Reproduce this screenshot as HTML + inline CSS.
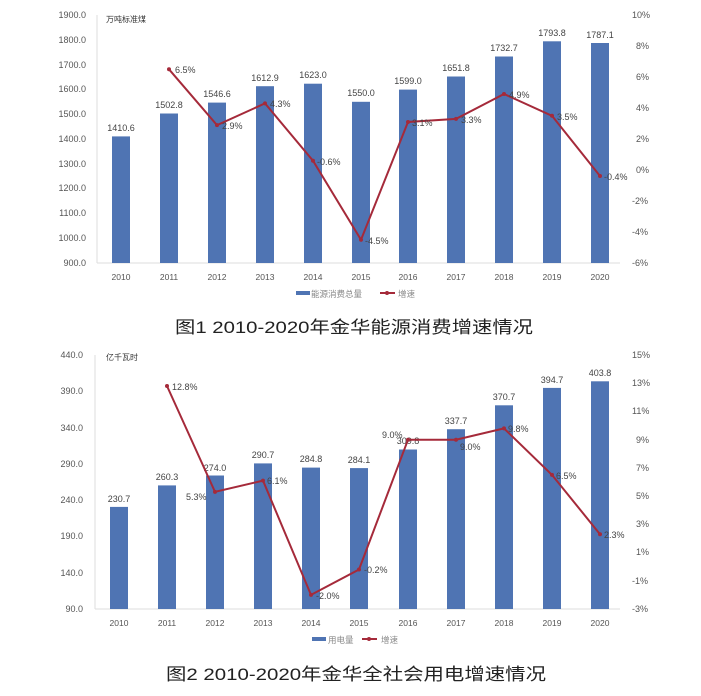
<!DOCTYPE html><html><head><meta charset="utf-8"><style>body{margin:0;background:#fff}svg{display:block}text{font-family:"Liberation Sans","Noto Sans CJK SC",sans-serif}</style></head><body>
<svg width="701" height="696" viewBox="0 0 701 696" xmlns="http://www.w3.org/2000/svg">
<g font-size="9" fill="#555">
<line x1="97" y1="15" x2="97" y2="263" stroke="#ddd"/>
<line x1="97" y1="263" x2="620" y2="263" stroke="#ddd"/>
<g text-anchor="end">
<text x="86" y="18">1900.0</text><text x="86" y="43">1800.0</text><text x="86" y="68">1700.0</text><text x="86" y="92">1600.0</text><text x="86" y="117">1500.0</text><text x="86" y="142">1400.0</text><text x="86" y="167">1300.0</text><text x="86" y="191">1200.0</text><text x="86" y="216">1100.0</text><text x="86" y="241">1000.0</text><text x="86" y="266">900.0</text>
</g>
<g text-anchor="start">
<text x="632" y="18">10%</text><text x="636" y="49">8%</text><text x="636" y="80">6%</text><text x="636" y="111">4%</text><text x="636" y="142">2%</text><text x="636" y="173">0%</text><text x="632" y="204">-2%</text><text x="632" y="235">-4%</text><text x="632" y="266">-6%</text>
</g>
<text x="106" y="22" font-size="8" fill="#333">万吨标准煤</text>
<g fill="#4f74b3">
<rect x="112" y="136.4" width="18" height="126.6"/><rect x="160" y="113.5" width="18" height="149.5"/><rect x="208" y="102.6" width="18" height="160.4"/><rect x="256" y="86.2" width="18" height="176.8"/><rect x="304" y="83.7" width="18" height="179.3"/><rect x="352" y="101.8" width="18" height="161.2"/><rect x="399" y="89.6" width="18" height="173.4"/><rect x="447" y="76.5" width="18" height="186.5"/><rect x="495" y="56.5" width="18" height="206.5"/><rect x="543" y="41.3" width="18" height="221.7"/><rect x="591" y="43" width="18" height="220"/>
</g>
<g text-anchor="middle" fill="#444">
<text x="121" y="131">1410.6</text><text x="169" y="108">1502.8</text><text x="217" y="97">1546.6</text><text x="265" y="81">1612.9</text><text x="313" y="78">1623.0</text><text x="361" y="96">1550.0</text><text x="408" y="84">1599.0</text><text x="456" y="71">1651.8</text><text x="504" y="51">1732.7</text><text x="552" y="36">1793.8</text><text x="600" y="38">1787.1</text>
</g>
<polyline points="169,69.3 217,125.1 265,103.4 313,160.7 361,239.8 408,122 456,118.9 504,94 552,115.8 600,176" fill="none" stroke="#a52a3a" stroke-width="2"/>
<g fill="#a52a3a"><circle cx="169" cy="69.3" r="2"/><circle cx="217" cy="125.1" r="2"/><circle cx="265" cy="103.4" r="2"/><circle cx="313" cy="160.7" r="2"/><circle cx="361" cy="239.8" r="2"/><circle cx="408" cy="122" r="2"/><circle cx="456" cy="118.9" r="2"/><circle cx="504" cy="94" r="2"/><circle cx="552" cy="115.8" r="2"/><circle cx="600" cy="176" r="2"/></g>
<g fill="#444">
<text x="175" y="73">6.5%</text><text x="222" y="129">2.9%</text><text x="270" y="107">4.3%</text><text x="317" y="165">-0.6%</text><text x="365" y="244">-4.5%</text><text x="412" y="126">3.1%</text><text x="461" y="123">3.3%</text><text x="509" y="98">4.9%</text><text x="557" y="120">3.5%</text><text x="604" y="180">-0.4%</text>
</g>
<g text-anchor="middle" font-size="8.5">
<text x="121" y="280">2010</text><text x="169" y="280">2011</text><text x="217" y="280">2012</text><text x="265" y="280">2013</text><text x="313" y="280">2014</text><text x="361" y="280">2015</text><text x="408" y="280">2016</text><text x="456" y="280">2017</text><text x="504" y="280">2018</text><text x="552" y="280">2019</text><text x="600" y="280">2020</text>
</g>
<rect x="296" y="291" width="14" height="4" fill="#4f74b3"/><text x="311" y="297" font-size="8.5" fill="#888">能源消费总量</text>
<line x1="380" y1="293" x2="395" y2="293" stroke="#a52a3a" stroke-width="2"/><circle cx="387" cy="293" r="2" fill="#a52a3a"/><text x="398" y="297" font-size="8.5" fill="#888">增速</text>
<text x="175" y="333" font-size="17" fill="#222" textLength="358" lengthAdjust="spacingAndGlyphs">图1  2010-2020年金华能源消费增速情况</text>

<line x1="95" y1="355" x2="95" y2="609" stroke="#ddd"/>
<line x1="95" y1="609" x2="620" y2="609" stroke="#ddd"/>
<g text-anchor="end">
<text x="83" y="358">440.0</text><text x="83" y="394">390.0</text><text x="83" y="431">340.0</text><text x="83" y="467">290.0</text><text x="83" y="503">240.0</text><text x="83" y="539">190.0</text><text x="83" y="576">140.0</text><text x="83" y="612">90.0</text>
</g>
<g>
<text x="632" y="358">15%</text><text x="632" y="386">13%</text><text x="632" y="414">11%</text><text x="636" y="443">9%</text><text x="636" y="471">7%</text><text x="636" y="499">5%</text><text x="636" y="527">3%</text><text x="636" y="555">1%</text><text x="632" y="584">-1%</text><text x="632" y="612">-3%</text>
</g>
<text x="106" y="360" font-size="8" fill="#333">亿千瓦时</text>
<g fill="#4f74b3">
<rect x="110" y="506.9" width="18" height="102.1"/><rect x="158" y="485.4" width="18" height="123.6"/><rect x="206" y="475.5" width="18" height="133.5"/><rect x="254" y="463.4" width="18" height="145.6"/><rect x="302" y="467.6" width="18" height="141.4"/><rect x="350" y="468.1" width="18" height="140.9"/><rect x="399" y="449.5" width="18" height="159.5"/><rect x="447" y="429.2" width="18" height="179.8"/><rect x="495" y="405.3" width="18" height="203.7"/><rect x="543" y="387.9" width="18" height="221.1"/><rect x="591" y="381.3" width="18" height="227.7"/>
</g>
<g text-anchor="middle" fill="#444">
<text x="119" y="502">230.7</text><text x="167" y="480">260.3</text><text x="215" y="471">274.0</text><text x="263" y="458">290.7</text><text x="311" y="462">284.8</text><text x="359" y="463">284.1</text><text x="408" y="444">309.8</text><text x="456" y="424">337.7</text><text x="504" y="400">370.7</text><text x="552" y="383">394.7</text><text x="600" y="376">403.8</text>
</g>
<polyline points="167,386 215,491.9 263,480.6 311,594.9 359,569.5 408,439.7 456,439.7 504,428.4 552,474.9 600,534.2" fill="none" stroke="#a52a3a" stroke-width="2"/>
<g fill="#a52a3a"><circle cx="167" cy="386" r="2"/><circle cx="215" cy="491.9" r="2"/><circle cx="263" cy="480.6" r="2"/><circle cx="311" cy="594.9" r="2"/><circle cx="359" cy="569.5" r="2"/><circle cx="408" cy="439.7" r="2"/><circle cx="456" cy="439.7" r="2"/><circle cx="504" cy="428.4" r="2"/><circle cx="552" cy="474.9" r="2"/><circle cx="600" cy="534.2" r="2"/></g>
<g fill="#444">
<text x="172" y="390">12.8%</text><text x="186" y="500">5.3%</text><text x="267" y="484">6.1%</text><text x="316" y="599">-2.0%</text><text x="364" y="573">-0.2%</text><text x="382" y="438">9.0%</text><text x="460" y="450">9.0%</text><text x="508" y="432">9.8%</text><text x="556" y="479">6.5%</text><text x="604" y="538">2.3%</text>
</g>
<g text-anchor="middle" font-size="8.5">
<text x="119" y="626">2010</text><text x="167" y="626">2011</text><text x="215" y="626">2012</text><text x="263" y="626">2013</text><text x="311" y="626">2014</text><text x="359" y="626">2015</text><text x="408" y="626">2016</text><text x="456" y="626">2017</text><text x="504" y="626">2018</text><text x="552" y="626">2019</text><text x="600" y="626">2020</text>
</g>
<rect x="312" y="637" width="14" height="4" fill="#4f74b3"/><text x="328" y="643" font-size="8.5" fill="#888">用电量</text>
<line x1="362" y1="639" x2="377" y2="639" stroke="#a52a3a" stroke-width="2"/><circle cx="369" cy="639" r="2" fill="#a52a3a"/><text x="381" y="643" font-size="8.5" fill="#888">增速</text>
<text x="166" y="680" font-size="17" fill="#222" textLength="380" lengthAdjust="spacingAndGlyphs">图2  2010-2020年金华全社会用电增速情况</text>
</g>
</svg>
</body></html>
